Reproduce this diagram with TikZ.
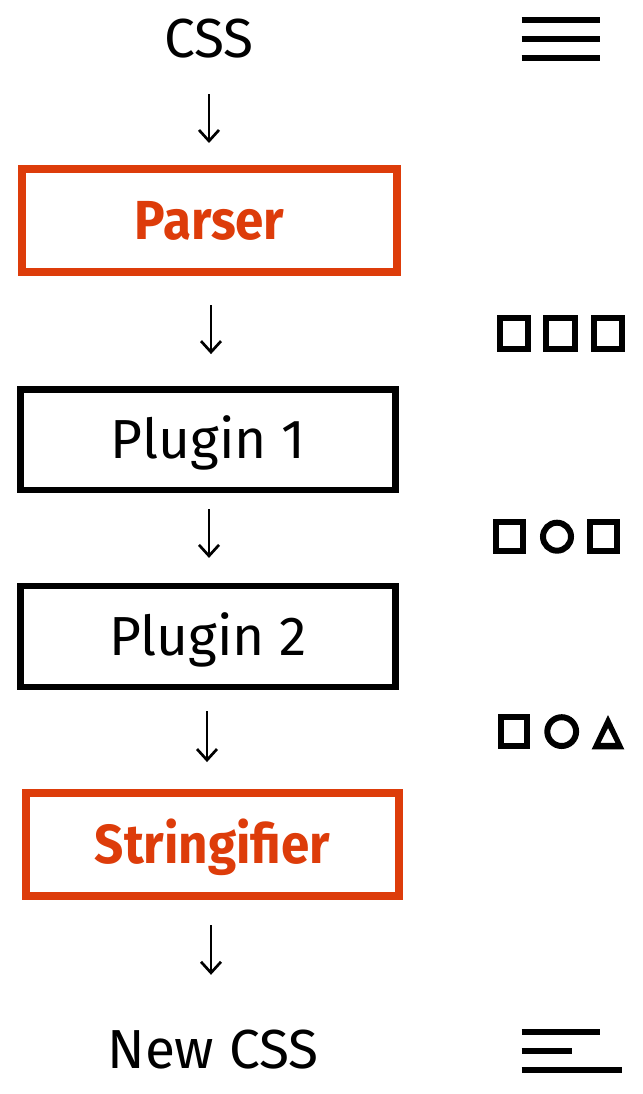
\documentclass[tikz,border=0pt]{standalone}
\usepackage{fontspec}
\setmainfont{Fira Sans}[BoldFeatures={FakeStretch=0.93}]
\usetikzlibrary{arrows.meta}
\definecolor{pcorange}{RGB}{221,60,10}
\begin{document}
\begin{tikzpicture}[x=1pt,y=-1pt,
  labeltext/.style={font=\fontsize{55}{60}\selectfont, inner sep=0pt, text height=38pt, text depth=0pt},
  stagebox/.style={draw, line width=6.5pt, inner sep=0pt, font=\fontsize{55}{60}\selectfont, text height=38pt, text depth=0pt},
  corebox/.style={stagebox, draw=pcorange, text=pcorange, line width=8pt, font=\fontsize{55}{60}\selectfont\bfseries},
  arr/.style={line width=2.7pt, -{Straight Barb[length=11pt,width=20pt]}},
  icon/.style={line width=6pt},
]
\useasboundingbox (0,0) rectangle (642,1094);

% main column
\node[labeltext] (css) at (209,39) {CSS};
\node[corebox, minimum width=374.7pt, minimum height=103pt] (parser) at (209.7,220.5) {Parser};
\node[stagebox, minimum width=375.4pt, minimum height=100.7pt] (p1) at (208,439.7) {Plugin 1};
\node[stagebox, minimum width=375.4pt, minimum height=100.7pt] (p2) at (208,636.5) {Plugin 2};
\node[corebox, minimum width=372.5pt, minimum height=102.7pt] (str) at (212.5,844.7) {Stringifier};
\node[labeltext] (new) at (213,1049) {New CSS};

% arrows
\draw[arr, shorten <=36pt, shorten >=22pt] (css.south) -- (css.south |- parser.north);
\draw[arr, shorten <=29pt, shorten >=32pt] ([xshift=1.3pt]parser.south) -- ([xshift=1.3pt]parser.south |- p1.north);
\draw[arr, shorten <=15.7pt, shorten >=25pt] ([xshift=1pt]p1.south) -- ([xshift=1pt]p1.south |- p2.north);
\draw[arr, shorten <=21pt, shorten >=27.3pt] ([xshift=-1pt]p2.south) -- ([xshift=-1pt]p2.south |- str.north);
\draw[arr, shorten <=25pt, shorten >=55pt] ([xshift=-1.5pt]str.south) -- ([xshift=-1.5pt]str.south |- new.north);

% icon: source lines
\draw[icon] (521.7,20.3) -- (600,20.3);
\draw[icon] (521.7,39.3) -- (600,39.3);
\draw[icon] (521.7,58.3) -- (600,58.3);

% row 1: three squares
\draw[icon] (500,318) rectangle (528,348.7);
\draw[icon] (546.3,318) rectangle (575.3,348.7);
\draw[icon] (594,318) rectangle (622,348.7);

% row 2: square, circle, square
\draw[icon] (496.3,522) rectangle (523,551.3);
\draw[icon] (557,536.7) circle (14);
\draw[icon] (590.3,522) rectangle (617,551.3);

% row 3: square, circle, triangle
\draw[icon] (500.7,717) rectangle (527,746.3);
\draw[icon] (561.7,731.6) circle (14.4);
\fill[even odd rule] (591.7,749.3) -- (624.3,749.3) -- (608,715) -- cycle
  (600.5,742.8) -- (615.5,742.8) -- (608,728) -- cycle;

% icon: output lines
\draw[icon] (521.7,1032.3) -- (600,1032.3);
\draw[icon] (521.7,1051) -- (571.7,1051);
\draw[icon] (521.7,1070) -- (622,1070);
\end{tikzpicture}
\end{document}
